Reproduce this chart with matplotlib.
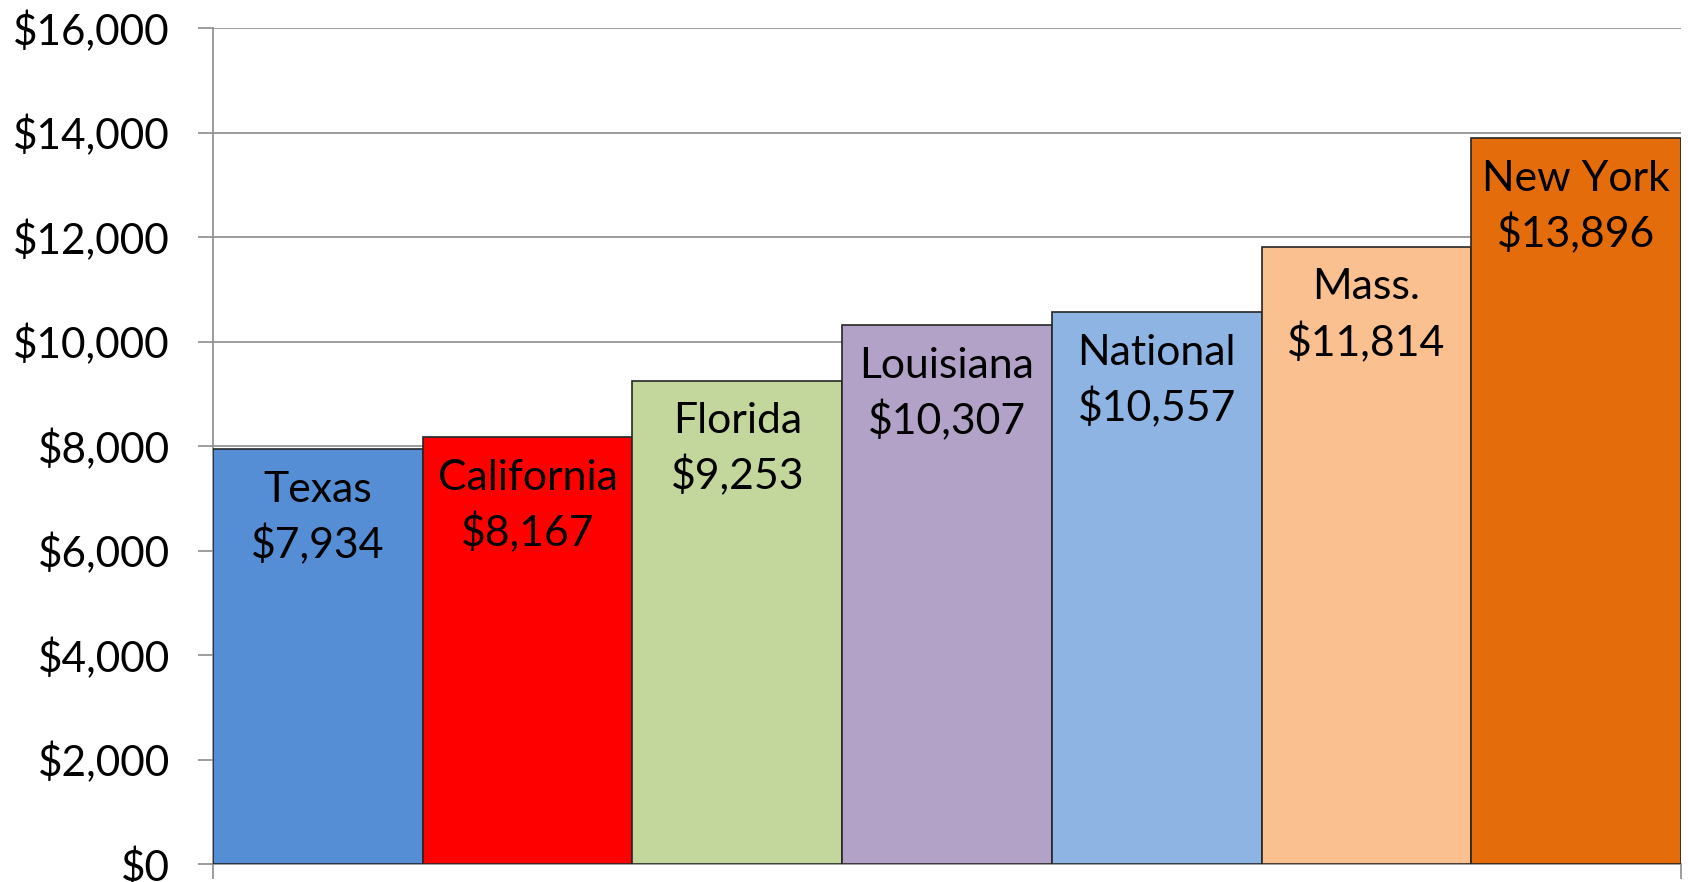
import matplotlib.pyplot as plt
from matplotlib.ticker import FuncFormatter

# Data
states = ['Texas', 'California', 'Florida', 'Louisiana', 'National', 'Mass.', 'New York']
spending = [7934, 8167, 9253, 10307, 10557, 11814, 13896]
colors = ['#558ED5', '#FF0000', '#C3D69B', '#B3A2C7', '#8EB4E3', '#FAC090', '#E46C0A']
y_ticks = list(range(0, 16001, 2000))

plt.rcParams['font.family'] = ['Lato', 'DejaVu Sans']

fig = plt.figure(figsize=(16.89, 8.82), dpi=100)
ax = fig.add_axes([213 / 1689, 18 / 882, 1468 / 1689, 836 / 882])

x = list(range(len(states)))
ax.bar(x, spending, width=1.0, color=colors, edgecolor='#262626', linewidth=1.2, zorder=3)

# labels inside the top of each bar
for xi, name, val in zip(x, states, spending):
    ax.annotate(name, (xi, val), xytext=(0, -38), textcoords='offset points',
                ha='center', va='baseline', fontsize=30.8, color='black', zorder=4)
    ax.annotate('${:,}'.format(val), (xi, val), xytext=(0, -78.5), textcoords='offset points',
                ha='center', va='baseline', fontsize=30.8, color='black', zorder=4)

ax.set_xlim(-0.5, len(states) - 0.5)
ax.set_ylim(0, 16000)
ax.set_yticks(y_ticks)
ax.yaxis.set_major_formatter(FuncFormatter(lambda v, p: '${:,.0f}'.format(v)))
ax.set_xticks([-0.5, len(states) - 0.5])
ax.set_xticklabels([])

ax.grid(axis='y', color='#8c8c8c', linewidth=1.2, zorder=0)
for side in ['top', 'right']:
    ax.spines[side].set_visible(False)
for side in ['left', 'bottom']:
    ax.spines[side].set_color('#8c8c8c')
    ax.spines[side].set_linewidth(1.2)

ax.tick_params(axis='y', length=11, width=1.2, color='#8c8c8c', labelsize=30.5, pad=20)
ax.tick_params(axis='x', length=11, width=1.2, color='#8c8c8c')

fig.savefig('out.png', dpi=100)
